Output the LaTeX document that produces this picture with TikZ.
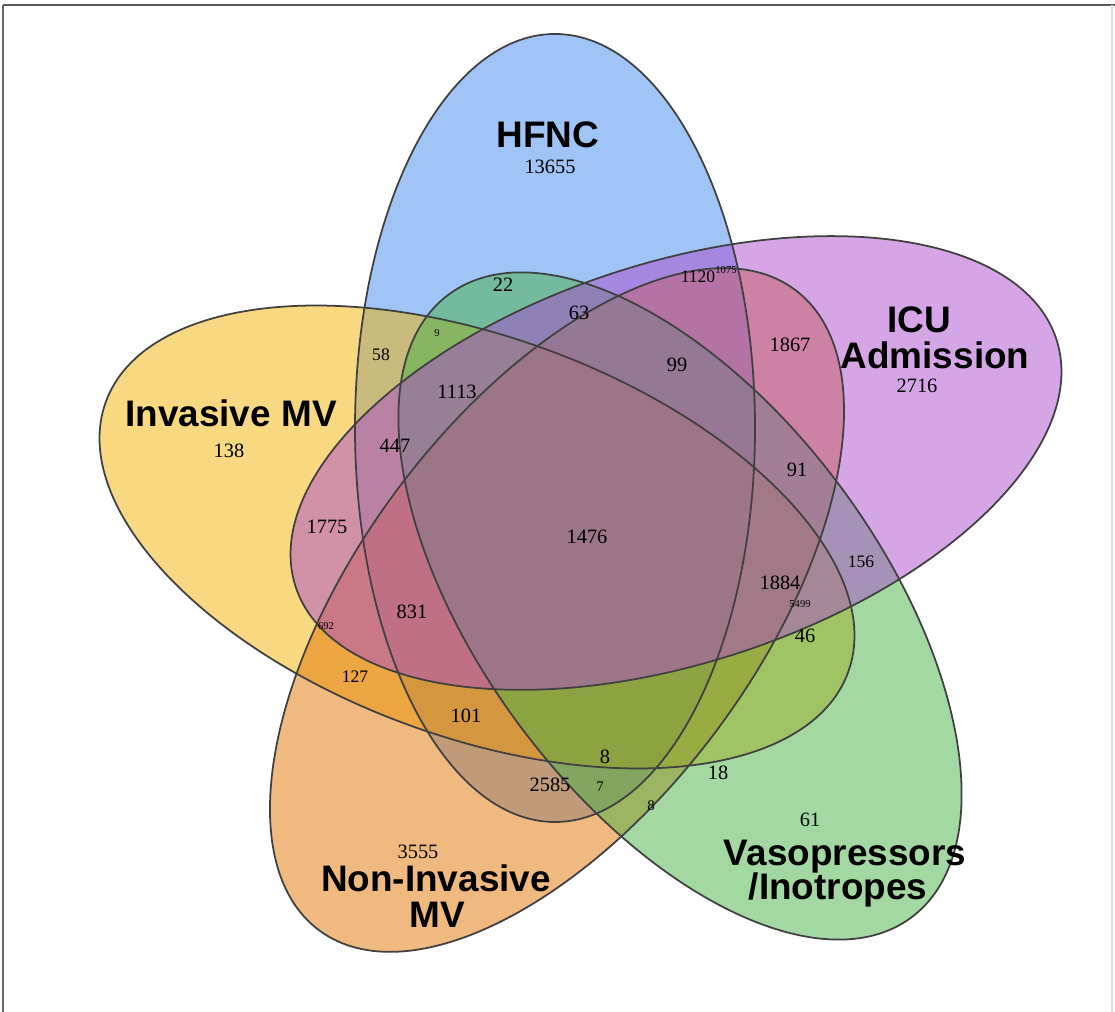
\documentclass[tikz,border=0pt]{standalone}
\usepackage{fontspec}
\setmainfont{Liberation Serif}
\newfontfamily\setfont{Liberation Sans}
\usepackage{tikz}
\usetikzlibrary{positioning}
\usepackage{xcolor}
\definecolor{hfncblue}{RGB}{65,137,237}
\definecolor{icupurple}{RGB}{171,75,205}
\definecolor{imvyellow}{RGB}{241,179,5}
\definecolor{nivorange}{RGB}{225,115,0}
\definecolor{vasogreen}{RGB}{71,177,71}
\tikzset{
  setfill/.style={fill=#1, fill opacity=0.5, draw=none},
  setline/.style={draw=black!75, line width=0.5pt},
}

\begin{document}
\begin{tikzpicture}[x=0.01cm,y=0.01cm,
            num/.style={inner sep=0pt,font=\fontsize{5.8}{7}\selectfont},
            smallnum/.style={inner sep=0pt,font=\fontsize{5}{6}\selectfont},
            tinynum/.style={inner sep=0pt,font=\fontsize{3}{4}\selectfont},
            midnum/.style={inner sep=0pt,font=\fontsize{4.2}{5}\selectfont},
            setname/.style={inner sep=0pt,align=center,font=\setfont\bfseries\fontsize{10.5}{12.6}\selectfont}]
            \useasboundingbox (0,0) rectangle (1115,1012);
            % frame
            \draw[gray!70!black, line width=0.8pt] (3,1007) -- (1115,1007);
            \draw[gray!80!black, line width=0.5pt] (3,0) -- (3,1007);
            \draw[gray!25, line width=0.3pt] (1112,0) -- (1112,1007);

            % the five sets
            \path[setfill=hfncblue] (555,584) ellipse [x radius=200, y radius=394];
            \path[setfill=imvyellow, rotate around={-20:(477,475)}] (477,475) ellipse [x radius=395, y radius=200];
            \path[setfill=nivorange, rotate around={53.4:(557,402)}] (557,402) ellipse [x radius=399, y radius=200];
            \path[setfill=vasogreen, rotate around={-53.4:(680,406)}] (680,406) ellipse [x radius=388, y radius=200];
            \path[setfill=icupurple, rotate around={18:(676,549)}] (676,549) ellipse [x radius=400, y radius=200];

            \draw[setline] (555,584) ellipse [x radius=200, y radius=394];
            \draw[setline, rotate around={-20:(477,475)}] (477,475) ellipse [x radius=395, y radius=200];
            \draw[setline, rotate around={53.4:(557,402)}] (557,402) ellipse [x radius=399, y radius=200];
            \draw[setline, rotate around={-53.4:(680,406)}] (680,406) ellipse [x radius=388, y radius=200];
            \draw[setline, rotate around={18:(676,549)}] (676,549) ellipse [x radius=400, y radius=200];

            % set names
            \node[setname] (hfnc) at (548,877) {HFNC};
            \node[setname] (icu) at (919,692) {ICU};
            \node[setname] (adm) at (935,657) {Admission};
            \node[setname] (imv) at (231,599) {Invasive MV};
            \node[setname] (niv) at (436,134) {Non-Invasive};
            \node[setname] (nivmv) at (437,97) {MV};
            \node[setname] (vaso) at (845,155) {Vasopressors};
            \node[setname] (ino) at (838,122) {/Inotropes};

            % counts
            \node[num] (n13655) at (550,845) {13655};
            \node[num] (n2716) at (917,626) {2716};
            \node[num] (n138) at (229,561) {138};
            \node[num] (n3555) at (418,160) {3555};
            \node[num] (n61) at (810,192) {61};
            \node[smallnum] (n1120) at (698,735) {1120};
            \node[num] (n22) at (503,727) {22};
            \node[num] (n63) at (579,699) {63};
            \node[tinynum] (n1075) at (726,742) {1075};
            \node[tinynum] (n9) at (437,679) {9};
            \node[smallnum] (n58) at (381,657) {58};
            \node[num] (n99) at (677,647) {99};
            \node[num] (n1867) at (790,667) {1867};
            \node[num] (n1113) at (457,620) {1113};
            \node[num] (n447) at (395,566) {447};
            \node[num] (n91) at (797,542) {91};
            \node[num] (n1476) at (587,475) {1476};
            \node[num] (n1775) at (327,485) {1775};
            \node[smallnum] (n156) at (861,450) {156};
            \node[num] (n1884) at (780,429) {1884};
            \node[tinynum] (n5499) at (800,408) {5499};
            \node[tinynum] (n692) at (326,386) {692};
            \node[num] (n831) at (412,400) {831};
            \node[smallnum] (n127) at (355,335) {127};
            \node[num] (n46) at (805,376) {46};
            \node[num] (n101) at (466,296) {101};
            \node[num] (n8) at (605,255) {8};
            \node[num] (n18) at (718,239) {18};
            \node[num] (n2585) at (550,227) {2585};
            \node[midnum] (n7) at (600,225) {7};
            \node[midnum] (n8b) at (651,206) {8};
\end{tikzpicture}
\end{document}
